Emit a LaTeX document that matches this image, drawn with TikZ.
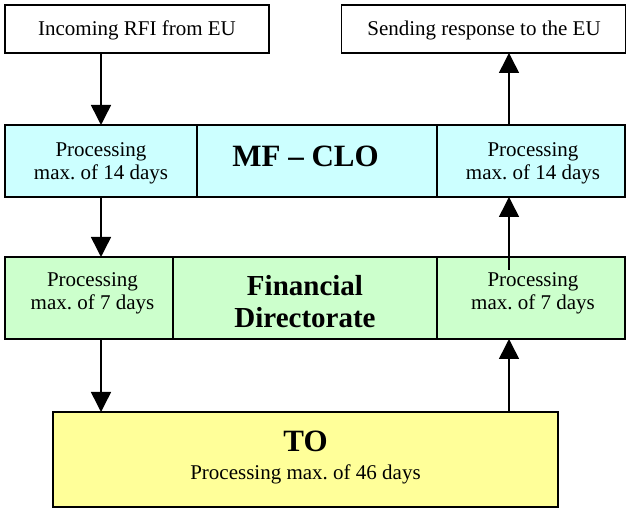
\documentclass[tikz,border=0pt]{standalone}
\usepackage{fontspec}
\setmainfont{Liberation Serif}
\usetikzlibrary{arrows.meta}
\definecolor{mfcol}{HTML}{CCFFFF}
\definecolor{fdcol}{HTML}{CCFFCC}
\definecolor{tocol}{HTML}{FFFF99}
\frenchspacing
\begin{document}
\begin{tikzpicture}[x=1pt,y=1pt,
  cell/.style={draw=black, line width=1.5pt, inner sep=0pt, outer sep=0pt},
  txt/.style={inner sep=0pt, align=center, font=\fontsize{21}{23}\selectfont},
  bigtxt/.style={inner sep=0pt, align=center, font=\fontsize{31}{33}\selectfont\bfseries},
  fdtxt/.style={inner sep=0pt, align=center, font=\fontsize{29}{32}\selectfont\bfseries},
  flow/.style={line width=1.5pt, -{Triangle[width=20pt,length=20pt]}}]
\useasboundingbox (0,0) rectangle (627,508);
\fill[white] (0,0) rectangle (627,508);
% top boxes
\node[cell, fill=white, minimum width=264pt, minimum height=48pt] (tl) at (137,479) {};
\node[cell, fill=white, minimum width=284pt, minimum height=48pt] (tr) at (483.5,479) {};
\node[txt, anchor=base] (tlt) at (tl.center |- 0,472) {Incoming RFI from EU};
\node[txt, anchor=base] (trt) at (484,472) {Sending response to the EU};
% MF - CLO row
\node[cell, fill=mfcol, minimum width=192pt, minimum height=72pt] (mfl) at (101,347) {};
\node[cell, fill=mfcol, minimum width=240pt, minimum height=72pt] (mfm) at (317,347) {};
\node[cell, fill=mfcol, minimum width=188pt, minimum height=72pt] (mfr) at (531,347) {};
\node[txt] (mflt) at (101,344.3) {Processing\\max. of 14 days};
\node[txt] (mfrt) at (533,344.3) {Processing\\max. of 14 days};
\node[bigtxt] (mfmt) at (305.5,351.5) {MF – CLO};
% Financial Directorate row
\node[cell, fill=fdcol, minimum width=168pt, minimum height=82pt] (fdl) at (89,210) {};
\node[cell, fill=fdcol, minimum width=264pt, minimum height=82pt] (fdm) at (305,210) {};
\node[cell, fill=fdcol, minimum width=188pt, minimum height=82pt] (fdr) at (531,210) {};
\node[txt] (fdlt) at (92.5,214.3) {Processing\\max. of 7 days};
\node[txt] (fdrt) at (533,214.3) {Processing\\max. of 7 days};
\node[fdtxt] (fdmt) at (305,206.9) {Financial\\Directorate};
% TO
\node[cell, fill=tocol, minimum width=505pt, minimum height=95pt] (to) at (305.5,48.5) {};
\node[bigtxt, anchor=base] (tot) at (305.5,56.3) {TO};
\node[txt, anchor=base] (tos) at (305.5,28.7) {Processing max. of 46 days};
% connector columns
\coordinate (xl) at (101,0);
\coordinate (xr) at (509,0);
\coordinate (fdin) at (509,238);
% arrows
\draw[flow] (tl.south -| xl) -- (mfl.north -| xl);
\draw[flow] (mfl.south -| xl) -- (fdl.north -| xl);
\draw[flow] (fdl.south -| xl) -- (to.north -| xl);
\draw[flow] (to.north -| xr) -- (fdr.south -| xr);
\draw[flow] (fdin) -- (mfr.south -| xr);
\draw[flow] (mfr.north -| xr) -- (tr.south -| xr);
\end{tikzpicture}
\end{document}
